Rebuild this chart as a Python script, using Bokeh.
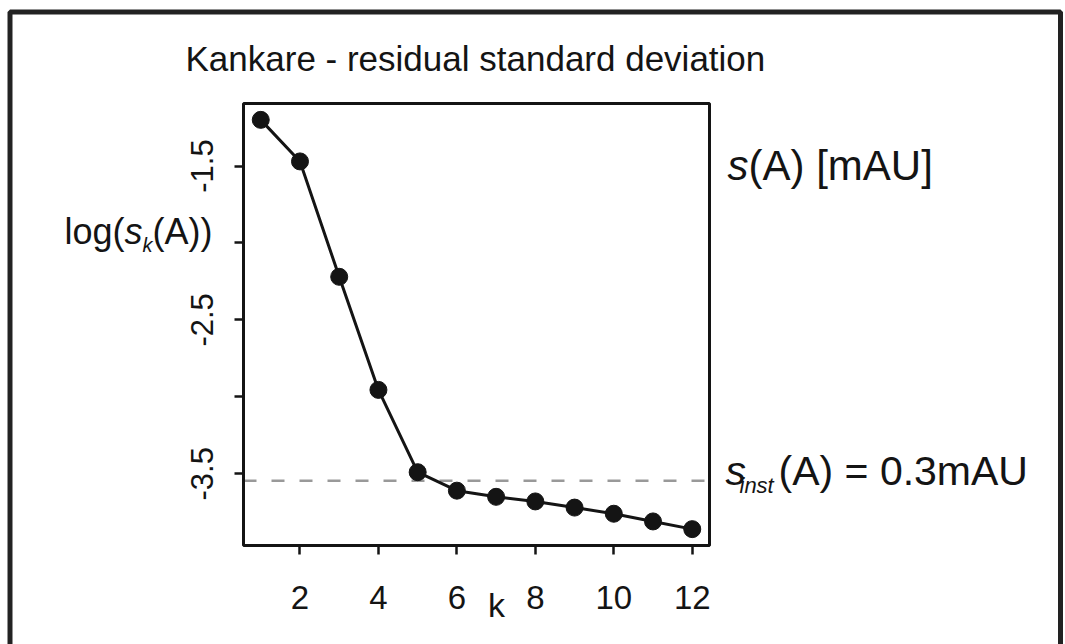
from bokeh.plotting import figure
from bokeh.models import Label, FixedTicker, Range1d, BoxAnnotation
from bokeh.embed import file_html
from bokeh.resources import INLINE

# ---- data ----
k = list(range(1, 13))
log_sk = [-1.20, -1.47, -2.22, -2.955, -3.49, -3.61, -3.65, -3.68, -3.72, -3.76, -3.81, -3.86]
log_s_inst = -3.545
x_ticks = [2, 4, 6, 8, 10, 12]
y_ticks = [-3.5, -3.0, -2.5, -2.0, -1.5]
y_tick_labels = {-3.5: "-3.5", -3.0: "", -2.5: "-2.5", -2.0: "", -1.5: "-1.5"}
title_text = "Kankare - residual standard deviation"
x_label = "k"

W, H = 1065, 644
L, R, T, B = 243, 356, 103, 99   # inner plot box position on the page
FONT = "Liberation Sans"
INK = "#141414"


def pad(lo, hi):
    d = (hi - lo) * 0.04
    return lo - d, hi + d


x0, x1 = pad(min(k), max(k))
y0, y1 = pad(min(log_sk), max(log_sk))
fx = (x1 - x0) / (W - L - R)   # data units per pixel
fy = (y1 - y0) / (H - T - B)

p = figure(width=W, height=H,
           x_range=Range1d(x0 - L * fx, x1 + R * fx),
           y_range=Range1d(y0 - B * fy, y1 + T * fy),
           output_backend="svg", toolbar_location=None, min_border=0)
p.grid.visible = False
p.background_fill_color = "white"
p.border_fill_color = "white"
p.outline_line_color = None

for ax in (p.xaxis[0], p.yaxis[0]):
    ax.axis_line_color = None
    ax.major_tick_out = 9
    ax.major_tick_in = 0
    ax.minor_tick_out = 0
    ax.minor_tick_in = 0
    ax.major_tick_line_color = INK
    ax.major_tick_line_width = 2.5
    ax.major_label_text_font = FONT
    ax.major_label_text_color = INK

p.xaxis.fixed_location = y0
p.xaxis.ticker = FixedTicker(ticks=x_ticks)
p.xaxis.major_label_text_font_size = "33px"
p.xaxis.major_label_standoff = 31
p.yaxis.fixed_location = x0
p.yaxis.ticker = FixedTicker(ticks=y_ticks)
p.yaxis.major_label_overrides = y_tick_labels
p.yaxis.major_label_orientation = "vertical"
p.yaxis.major_label_text_font_size = "31px"
p.yaxis.major_label_standoff = 21

# inner box
p.add_layout(BoxAnnotation(left=x0, right=x1, bottom=y0, top=y1,
                           fill_alpha=0, line_color=INK, line_alpha=1, line_width=3))

# instrument noise level
p.line([x0, x1], [log_s_inst, log_s_inst], line_color="#999999",
       line_width=2.5, line_dash="13 15")
p.line(k, log_sk, line_color=INK, line_width=3)
p.scatter(k, log_sk, size=17, color=INK)


def dx(px):
    return x0 + (px - L) * fx


def dy(py):
    return y1 - (py - T) * fy


def lab(px, py, text, size, style="normal", align="left"):
    # py is the wanted baseline; compensate the renderer's baseline offset
    p.add_layout(Label(x=dx(px), y=dy(py - 0.4 * size), text=text, text_font=FONT,
                       text_font_size=f"{size}px", text_font_style=style,
                       text_color=INK, text_align=align, text_baseline="alphabetic"))


# title
lab(185, 72, title_text, 35)
# y label  log(s_k(A))
lab(64, 245, "log(", 36)
lab(124, 245, "s", 36, "italic")
lab(142, 252, "k", 20, "italic")
lab(152, 245, "(A))", 36)
# x label
lab(496, 618, x_label, 34, align="center")
# right texts
lab(727, 182, "s", 42, "italic")
lab(748, 182, "(A) [mAU]", 42)
lab(725, 487, "s", 41, "italic")
lab(739, 494, "inst", 22, "italic")
lab(778, 487, "(A) = 0.3mAU", 41)

# outer frame
p.add_layout(BoxAnnotation(left=dx(9.5), right=dx(1060), top=dy(11.5), bottom=dy(720),
                           fill_alpha=0, line_color="#222222", line_alpha=1, line_width=5))

open("out.html", "w").write(file_html(p, INLINE))
